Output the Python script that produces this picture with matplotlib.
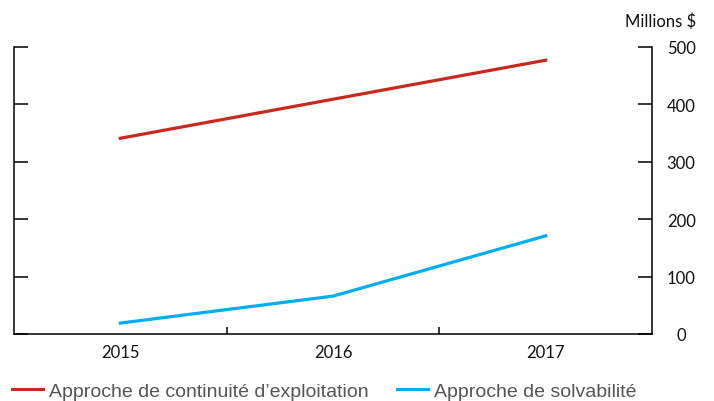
import matplotlib
matplotlib.use("Agg")
import matplotlib.pyplot as plt
from matplotlib.ticker import FixedLocator

years = ["2015", "2016", "2017"]
continuite = [341, 409, 477]
solvabilite = [19, 66, 171]
y_ticks = [0, 100, 200, 300, 400, 500]

RED = "#C8281E"
BLUE = "#00AEEF"

fig = plt.figure(figsize=(7.14, 4.02), dpi=100)
ax = fig.add_axes([14 / 714, 67 / 402, 638 / 714, 287 / 402])

x = range(len(years))
l1, = ax.plot(x, continuite, color=RED, lw=2.3, label="Approche de continuité d\u2019exploitation")
l2, = ax.plot(x, solvabilite, color=BLUE, lw=2.3, label="Approche de solvabilité")

ax.set_xlim(-0.5, len(years) - 0.5)
ax.set_ylim(0, 500)

for side in ["left", "right", "bottom"]:
    ax.spines[side].set_linewidth(1.1)
ax.spines["top"].set_visible(False)

# categories centred between minor ticks that mark the year boundaries
ax.set_xticks(list(x))
ax.set_xticklabels(years)
ax.xaxis.set_minor_locator(FixedLocator([0.5, 1.5]))
ax.tick_params(axis="x", which="major", length=0, pad=7)
ax.tick_params(axis="x", which="minor", direction="in", length=5, width=1.1)

ax.set_yticks(y_ticks)
ax.tick_params(axis="y", left=True, right=True, labelleft=False, labelright=True,
               direction="in", length=10, width=1.1, pad=21)
for lbl in ax.get_yticklabels():
    lbl.set_horizontalalignment("center")

for lbl in ax.get_xticklabels() + ax.get_yticklabels():
    lbl.set_fontfamily("Lato")
    lbl.set_fontsize(12)
    lbl.set_color("#111111")

fig.text(696 / 714, 1 - 22 / 402, "Millions $", ha="right", va="center",
         fontfamily="Lato", fontsize=12, color="#111111")

fig.legend(handles=[l1, l2], loc="center left", bbox_to_anchor=(12 / 714, 10 / 402), ncol=2,
           frameon=False, borderpad=0, borderaxespad=0,
           handlelength=1.6, handletextpad=0.32, columnspacing=1.45,
           prop={"family": "Liberation Sans", "size": 14}, labelcolor="#555555")
for h in fig.legends[0].legend_handles:
    h.set_linewidth(2.2)

fig.savefig("out.png", dpi=100)
